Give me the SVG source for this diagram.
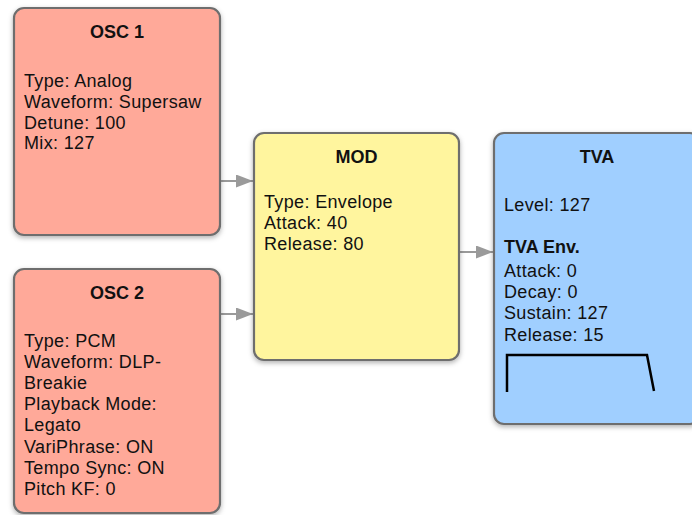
<svg xmlns="http://www.w3.org/2000/svg" width="692" height="515" viewBox="0 0 692 515">
  <defs>
    <filter id="shadow" x="-10%" y="-10%" width="120%" height="120%">
      <feDropShadow dx="0" dy="2" stdDeviation="2.5" flood-color="#000" flood-opacity="0.3"/>
    </filter>
    <marker id="arrow" viewBox="0 0 17 13" refX="17" refY="6.5" markerWidth="17" markerHeight="13" markerUnits="userSpaceOnUse" orient="auto">
      <path d="M0,0 L17,6.5 L0,13 Z" fill="#9a9a9a"/>
    </marker>
    <style>
      .box { stroke: #6e6e6e; stroke-width: 2.2; filter: url(#shadow); }
      .osc { fill: #ffa999; }
      .mod { fill: #fff59e; }
      .tva { fill: #a0cfff; }
      text { font-family: "Liberation Sans", Arial, Helvetica, sans-serif; font-size: 18px; fill: #111; letter-spacing: 0.35px; }
      .title { font-weight: bold; text-anchor: middle; letter-spacing: 0; }
      .bold { font-weight: bold; letter-spacing: 0; }
      .link { stroke: #9a9a9a; stroke-width: 2; fill: none; marker-end: url(#arrow); }
      .env { stroke: #000; stroke-width: 2.5; fill: none; }
    </style>
  </defs>
  <rect width="692" height="515" fill="#ffffff"/>

  <g id="connectors">
    <line class="link" x1="221" y1="181" x2="253" y2="181"/>
    <line class="link" x1="221" y1="314" x2="253" y2="314"/>
    <line class="link" x1="460" y1="252" x2="493" y2="252"/>
  </g>

  <g id="osc1">
    <rect class="box osc" x="14" y="8" width="206" height="227" rx="10"/>
    <text class="title" x="117" y="38">OSC 1</text>
    <text x="24" y="87">Type: Analog</text>
    <text x="24" y="108">Waveform: Supersaw</text>
    <text x="24" y="129">Detune: 100</text>
    <text x="24" y="149">Mix: 127</text>
  </g>

  <g id="osc2">
    <rect class="box osc" x="14" y="269" width="206" height="244" rx="10"/>
    <text class="title" x="117" y="299">OSC 2</text>
    <text x="24" y="347">Type: PCM</text>
    <text x="24" y="368">Waveform: DLP-</text>
    <text x="24" y="389">Breakie</text>
    <text x="24" y="410">Playback Mode:</text>
    <text x="24" y="431">Legato</text>
    <text x="24" y="453">VariPhrase: ON</text>
    <text x="24" y="474">Tempo Sync: ON</text>
    <text x="24" y="495">Pitch KF: 0</text>
  </g>

  <g id="mod">
    <rect class="box mod" x="254" y="133" width="205" height="227" rx="10"/>
    <text class="title" x="356.5" y="163">MOD</text>
    <text x="264" y="208">Type: Envelope</text>
    <text x="264" y="229">Attack: 40</text>
    <text x="264" y="250">Release: 80</text>
  </g>

  <g id="tva">
    <rect class="box tva" x="494" y="133" width="206" height="291" rx="10"/>
    <text class="title" x="597" y="163">TVA</text>
    <text x="504" y="211">Level: 127</text>
    <text class="bold" x="504" y="253">TVA Env.</text>
    <text x="504" y="277">Attack: 0</text>
    <text x="504" y="298">Decay: 0</text>
    <text x="504" y="319">Sustain: 127</text>
    <text x="504" y="341">Release: 15</text>
    <polyline class="env" points="507,392 507,355 647,355 654,391"/>
  </g>
</svg>
